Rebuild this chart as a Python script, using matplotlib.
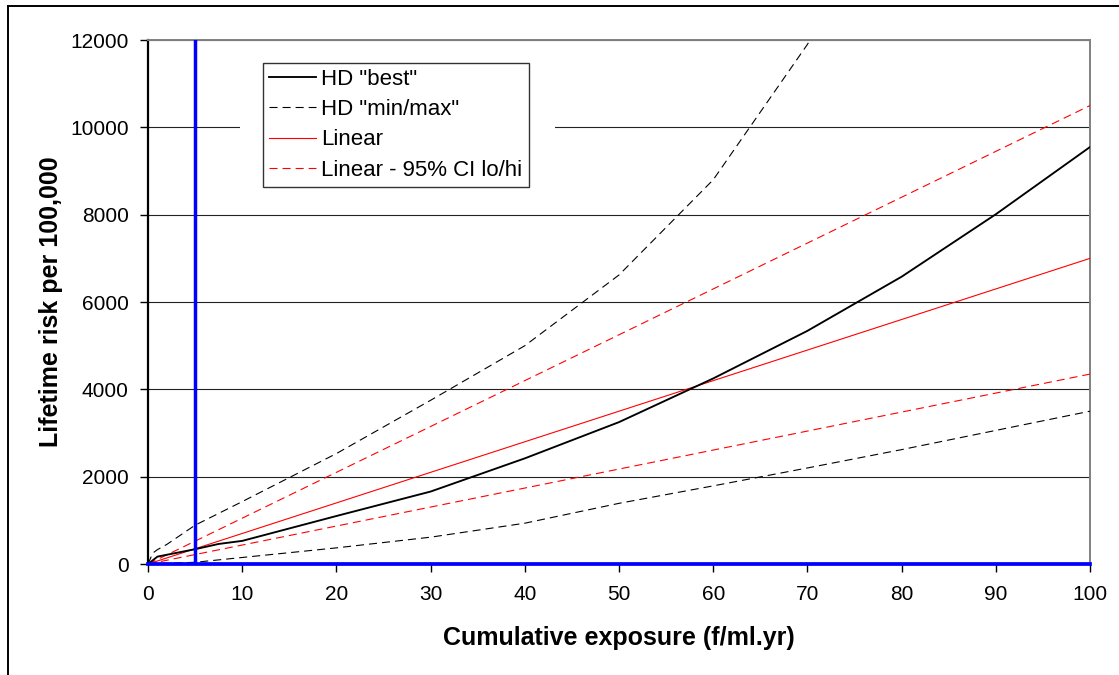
import matplotlib
matplotlib.use("Agg")
import matplotlib.pyplot as plt
from matplotlib.lines import Line2D
from matplotlib.patches import Rectangle

plt.rcParams['font.family'] = ['Liberation Sans', 'DejaVu Sans']
plt.rcParams['lines.scale_dashes'] = False

# Cumulative exposure (f/ml.yr)
hd_best_x = [0, 1, 5, 7.5, 10, 20, 30, 40, 50, 60, 70, 80, 90, 100]
hd_best = [0, 170, 340, 460, 530, 1100, 1660, 2420, 3250, 4250, 5340, 6580, 8010, 9550]

hd_max_x = [0, 0.5, 1, 2, 5, 10, 20, 30, 40, 50, 60, 70, 80]
hd_max = [0, 250, 330, 450, 890, 1430, 2530, 3750, 5000, 6620, 8800, 11900, 15600]

hd_min_x = [0, 5, 10, 20, 30, 40, 50, 60, 70, 80, 90, 100]
hd_min = [0, 40, 150, 370, 615, 935, 1390, 1790, 2200, 2620, 3060, 3500]

linear_x = [0, 100]
linear = [0, 7000]
linear_lo = [0, 4350]
linear_hi = [0, 10500]

reference_exposure = 5

x_ticks = [0, 10, 20, 30, 40, 50, 60, 70, 80, 90, 100]
y_ticks = [0, 2000, 4000, 6000, 8000, 10000, 12000]

fig = plt.figure(figsize=(11.19, 6.75), dpi=100)
ax = fig.add_axes([0.1323, 0.1644, 0.9741 - 0.1323, 0.9407 - 0.1644])

dash_black = (0, (5.8, 3.6))
dash_red = (0, (5.8, 3.6))

ax.plot(hd_best_x, hd_best, color='black', lw=1.35, label='HD "best"', zorder=4)
ax.plot(hd_max_x, hd_max, color='black', lw=0.8, ls=dash_black, label='HD "min/max"', zorder=3)
ax.plot(hd_min_x, hd_min, color='black', lw=0.8, ls=dash_black, zorder=3)
ax.plot(linear_x, linear, color='#ff0000', lw=0.8, label='Linear', zorder=3)
ax.plot(linear_x, linear_hi, color='#ff0000', lw=0.8, ls=dash_red,
        label='Linear - 95% CI lo/hi', zorder=3)
ax.plot(linear_x, linear_lo, color='#ff0000', lw=0.8, ls=dash_red, zorder=3)

# reference lines
ax.axvline(reference_exposure, color='#0000ff', lw=2.5, zorder=6)
ax.axhline(0, color='#0000ff', lw=2.7, zorder=6, clip_on=False)

ax.set_xlim(0, 100)
ax.set_ylim(0, 12000)
ax.set_xticks(x_ticks)
ax.set_yticks(y_ticks)
ax.set_xticklabels([str(v) for v in x_ticks])
ax.set_yticklabels([str(v) for v in y_ticks])

ax.set_axisbelow(True)
ax.yaxis.grid(True, color='#222222', lw=0.8)

for side in ('top', 'right'):
    ax.spines[side].set_color('#808080')
    ax.spines[side].set_linewidth(1.4)
ax.spines['left'].set_color('black')
ax.spines['left'].set_linewidth(1.6)
ax.spines['bottom'].set_visible(False)

ax.tick_params(axis='both', direction='out', length=6, width=1, color='black',
               labelsize=15, labelcolor='black')
ax.tick_params(axis='y', pad=8)
ax.tick_params(axis='x', pad=9)

ax.set_xlabel('Cumulative exposure (f/ml.yr)', fontsize=18, fontweight='bold', labelpad=16)
ax.set_ylabel('Lifetime risk per 100,000', fontsize=18, fontweight='bold', labelpad=5)

# clear space around the legend
ax.add_patch(Rectangle((0.0977, 0.74), 0.4323 - 0.0977, 0.20, transform=ax.transAxes,
                       facecolor='white', edgecolor='none', zorder=1.5))

leg = ax.legend(loc='upper left', bbox_to_anchor=(0.122, 0.957), borderaxespad=0,
                fontsize=16, frameon=True, fancybox=False, edgecolor='black',
                handlelength=2.1, handletextpad=0.25, labelspacing=0.42,
                borderpad=0.28)
leg.get_frame().set_linewidth(1.0)
leg.set_zorder(7)

# chart border
fig.add_artist(Line2D([8 / 1119, 1.0], [1 - 6 / 675, 1 - 6 / 675], color='black', lw=1.4,
                      transform=fig.transFigure))
fig.add_artist(Line2D([8 / 1119, 8 / 1119], [0.0, 1 - 6 / 675], color='black', lw=1.4,
                      transform=fig.transFigure))

fig.savefig('out.png', dpi=100)
